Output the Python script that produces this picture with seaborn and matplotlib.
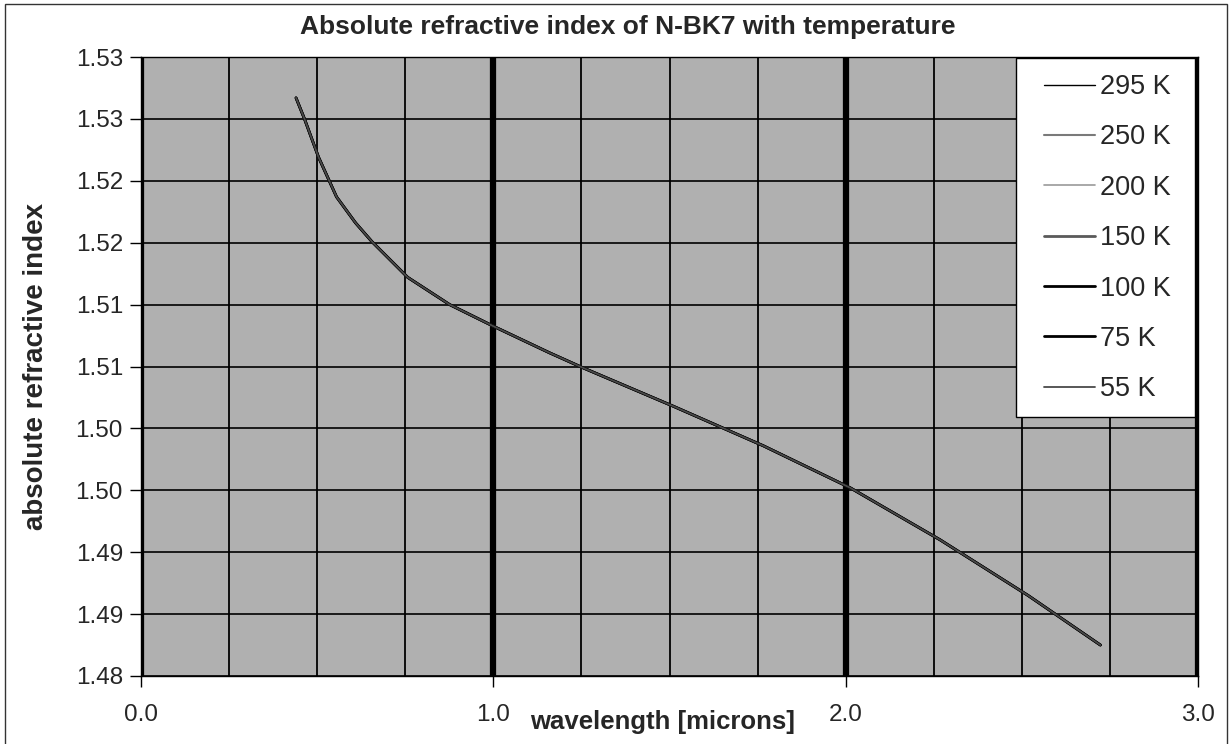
import numpy as np
import pandas as pd
import matplotlib
matplotlib.use("Agg")
import matplotlib.pyplot as plt
import seaborn as sns
from matplotlib.patches import Rectangle

# values (all temperature curves overlap)
wavelength = [0.440, 0.464, 0.504, 0.555, 0.609, 0.655, 0.757, 0.876, 1.004,
              1.160, 1.254, 1.510, 1.766, 2.013, 2.268, 2.518, 2.723]
n_abs = [1.5267, 1.5250, 1.5219, 1.5187, 1.5166, 1.5151, 1.5122, 1.5100, 1.5082,
         1.5061, 1.5049, 1.5018, 1.4986, 1.4952, 1.4910, 1.4865, 1.4825]
temperatures = ["295 K", "250 K", "200 K", "150 K", "100 K", "75 K", "55 K"]
line_colors = ["#000000", "#7a7a7a", "#9a9a9a", "#5a5a5a", "#000000", "#000000", "#4a4a4a"]
line_widths = [1.0, 1.5, 1.2, 2.0, 2.0, 2.0, 1.3]

y_ticks = [1.480, 1.485, 1.490, 1.495, 1.500, 1.505, 1.510, 1.515, 1.520, 1.525, 1.530]
y_tick_labels = ["1.48", "1.49", "1.49", "1.50", "1.50", "1.51", "1.51", "1.52", "1.52", "1.53", "1.53"]
x_ticks = [0.0, 1.0, 2.0, 3.0]
x_tick_labels = ["0.0", "1.0", "2.0", "3.0"]

rows = []
for t in temperatures:
    for w, v in zip(wavelength, n_abs):
        rows.append({"temperature": t, "wavelength": w, "n": v})
df = pd.DataFrame(rows)

sns.set_style("white")
plt.rcParams["font.family"] = ["Liberation Sans", "DejaVu Sans"]

W, H = 1232, 744
fig = plt.figure(figsize=(W / 100, H / 100), dpi=100)
ax = fig.add_axes([141 / W, 1 - 676 / H, (1198 - 141) / W, (676 - 57) / H])
ax.set_facecolor("#b0b0b0")

for t, c, lw in zip(temperatures, line_colors, line_widths):
    sns.lineplot(data=df[df["temperature"] == t], x="wavelength", y="n",
                 color=c, linewidth=lw, label=t, ax=ax, sort=False, estimator=None)

ax.set_xlim(0, 3.0)
ax.set_ylim(1.48, 1.53)
ax.set_xticks(x_ticks)
ax.set_xticklabels(x_tick_labels, fontsize=17.5)
ax.set_xticks(np.arange(0, 3.01, 0.25), minor=True)
ax.set_yticks(y_ticks)
ax.set_yticklabels(y_tick_labels, fontsize=17.5)

ax.set_axisbelow(True)
ax.grid(which="minor", axis="x", color="black", linewidth=1.3)
ax.grid(which="major", axis="x", color="black", linewidth=4.5)
ax.grid(which="major", axis="y", color="black", linewidth=1.2)
ax.tick_params(axis="x", which="minor", length=0)
ax.tick_params(axis="both", which="major", direction="out", length=8, width=1,
               color="black", bottom=True, left=True)
ax.tick_params(axis="x", which="major", pad=12)
ax.tick_params(axis="y", which="major", pad=5)
for s in ax.spines.values():
    s.set_color("black")
    s.set_linewidth(1)

ax.set_xlabel("")
ax.set_ylabel("")
fig.text(663 / W, 1 - 722 / H, "wavelength [microns]", ha="center", va="center",
         fontsize=18.5, fontweight="bold")
fig.text(36 / W, 1 - 366 / H, "absolute refractive index", ha="center", va="center",
         rotation=90, fontsize=20, fontweight="bold")
fig.text(628 / W, 1 - 27 / H, "Absolute refractive index of N-BK7 with temperature",
         ha="center", va="center", fontsize=19, fontweight="bold")

# legend: white box drawn separately, entries placed inside it
handles, labels = ax.get_legend_handles_labels()
ax.get_legend().remove()
fig.patches.append(Rectangle((1016 / W, 1 - 417 / H), (1195 - 1016) / W, (417 - 58) / H,
                             transform=fig.transFigure, facecolor="white",
                             edgecolor="black", linewidth=1, zorder=3))
leg = fig.legend(handles, labels, loc="upper left",
                 bbox_to_anchor=(1044 / W, 1 - 74 / H),
                 fontsize=19.5, frameon=False, handlelength=1.9, handletextpad=0.15,
                 labelspacing=0.9, borderpad=0, borderaxespad=0)
leg.set_zorder(5)

fig.patches.append(Rectangle((5 / W, -0.02), 1222 / W, 1.0 - 4 / H + 0.02,
                             transform=fig.transFigure, fill=False,
                             edgecolor="#333333", linewidth=1))

fig.savefig("out.png", dpi=100)
